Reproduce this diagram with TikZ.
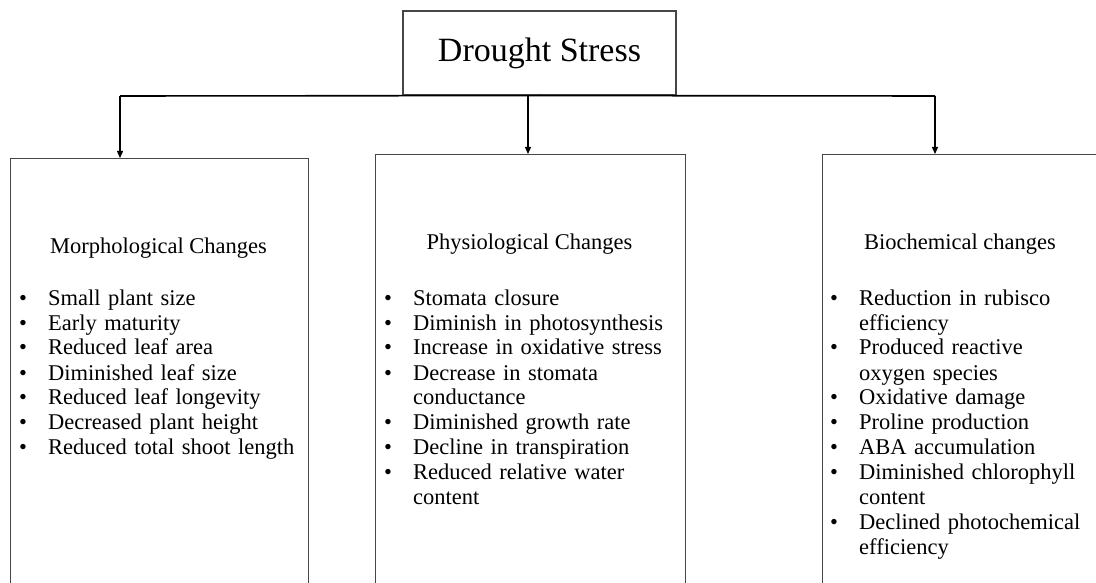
\documentclass[tikz,border=0pt]{standalone}
\usepackage{fontspec}
\setmainfont{Liberation Serif}
\usetikzlibrary{arrows.meta}
\definecolor{boxgray}{RGB}{70,70,70}
\newcommand{\bitem}[1]{\makebox[29pt][l]{•}#1}
\newcommand{\bcont}[1]{\hspace*{29pt}#1}
\begin{document}
\begin{tikzpicture}[x=1pt,y=-1pt,
  box/.style={draw=boxgray,line width=1.1pt,inner sep=0pt,anchor=north west},
  head/.style={font=\fontsize{22.5}{25}\selectfont,anchor=base,inner sep=0pt},
  list/.style={font=\fontsize{22.5}{25}\selectfont,anchor=base west,inner sep=0pt,align=left,text width=#1},
  conn/.style={line width=1.6pt},
  arr/.style={line width=1.3pt,-{Triangle[length=7pt,width=6pt]}}]
\path[use as bounding box] (0,0) rectangle (1096,583);
\clip (0,0) rectangle (1096,583);
% title
\node[draw=boxgray,line width=1.1pt,minimum width=273,minimum height=84,inner sep=0pt,
      font=\fontsize{34}{40}\selectfont] (top) at (539.5,53) {Drought Stress};
% boxes
\node[box,minimum width=298,minimum height=460] (lbox) at (10,158) {};
\node[box,minimum width=310,minimum height=460] (mbox) at (375,154) {};
\node[box,minimum width=300,minimum height=460] (rbox) at (822,154) {};
% connectors
\coordinate (jl) at (120,96);
\coordinate (jm) at (528,96);
\coordinate (jr) at (935,96);
\draw[conn] (jl) -- (top.south) -- (jr);
\draw[arr] (jl) -- (jl |- lbox.north);
\draw[arr] (jm) -- (jm |- mbox.north);
\draw[arr] (jr) -- (jr |- rbox.north);
% headers
\node[head] (lh) at (158.5,254) {Morphological Changes};
\node[head] (mh) at (529.5,249) {Physiological Changes};
\node[head] (rh) at (960,249) {Biochemical changes};
% lists
\node[list=280pt] (ll) at (19,305) {%
\bitem{Small plant size}\\
\bitem{Early maturity}\\
\bitem{Reduced leaf area}\\
\bitem{Diminished leaf size}\\
\bitem{Reduced leaf longevity}\\
\bitem{Decreased plant height}\\
\bitem{Reduced total shoot length}};
\node[list=295pt] (ml) at (384,305) {%
\bitem{Stomata closure}\\
\bitem{Diminish in photosynthesis}\\
\bitem{Increase in oxidative stress}\\
\bitem{Decrease in stomata}\\
\bcont{conductance}\\
\bitem{Diminished growth rate}\\
\bitem{Decline in transpiration}\\
\bitem{Reduced relative water}\\
\bcont{content}};
\node[list=265pt] (rl) at (830,305) {%
\bitem{Reduction in rubisco}\\
\bcont{efficiency}\\
\bitem{Produced reactive}\\
\bcont{oxygen species}\\
\bitem{Oxidative damage}\\
\bitem{Proline production}\\
\bitem{ABA accumulation}\\
\bitem{Diminished chlorophyll}\\
\bcont{content}\\
\bitem{Declined photochemical}\\
\bcont{efficiency}};
\end{tikzpicture}
\end{document}
